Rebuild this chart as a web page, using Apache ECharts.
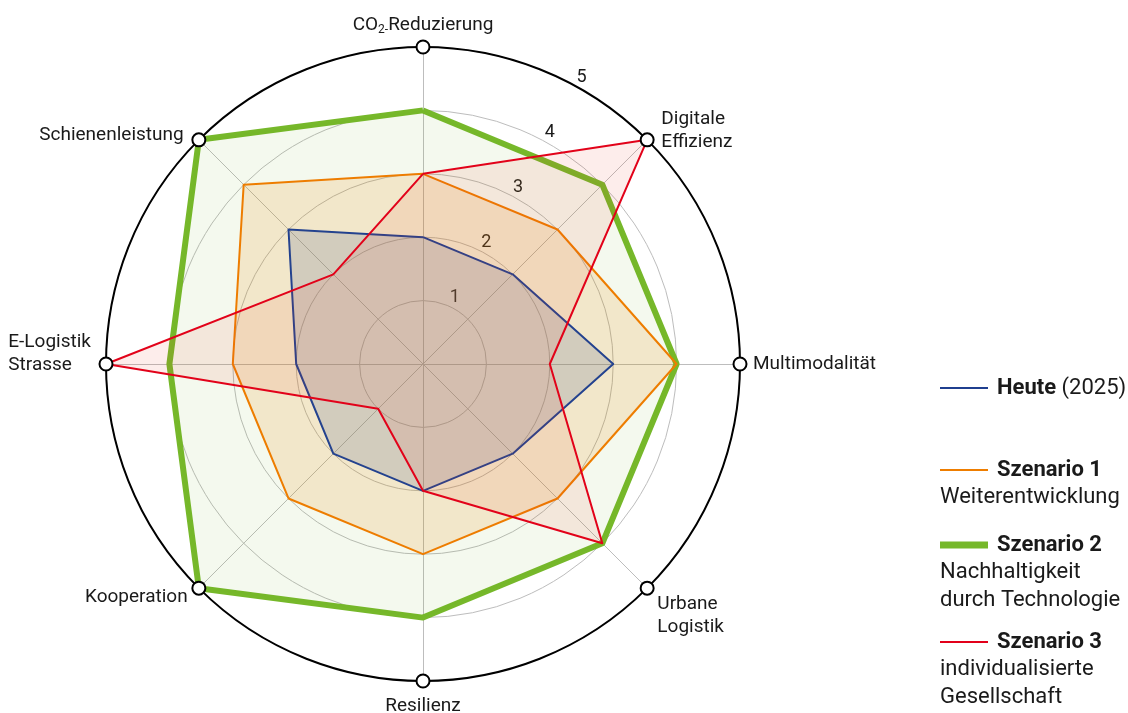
<!DOCTYPE html>
<html>
<head>
<meta charset="utf-8">
<script src="https://cdn.jsdelivr.net/npm/echarts@6/dist/echarts.min.js"></script>
<style>html,body{margin:0;padding:0;background:#fff;}#c{width:1128px;height:713px;}</style>
</head>
<body>
<div id="c"></div>
<script>
// Categories in clockwise order starting at top
const categories = ['CO2-Reduzierung', 'Digitale Effizienz', 'Multimodalität', 'Urbane Logistik', 'Resilienz', 'Kooperation', 'E-Logistik Strasse', 'Schienenleistung'];
const heute = [2, 2, 3, 2, 2, 2, 2, 3];
const szenario1 = [3, 3, 4, 3, 3, 3, 3, 4];
const szenario2 = [4, 4, 4, 4, 4, 5, 4, 5];
const szenario3 = [3, 5, 2, 4, 2, 1, 5, 2];
const outerMarks = [5, 5, 5, 5, 5, 5, 5, 5];
const tickLabels = ['1', '2', '3', '4', '5'];
const seriesNames = ['Heute', 'Szenario 1', 'Szenario 2', 'Szenario 3'];
const legendSuffix = ['(2025)', '', '', ''];
const legendSubtitles = ['', 'Weiterentwicklung', 'Nachhaltigkeit\ndurch Technologie', 'individualisierte\nGesellschaft'];

const FONT = 'Roboto';
const TXT = '#1a1a1a';
const MAXV = 5;
const LFS = 19;   // axis name font size
const GFS = 22;   // legend font size

// ECharts radar runs counter-clockwise; reorder so the picture runs clockwise
const order = [0, 7, 6, 5, 4, 3, 2, 1];
const reorder = arr => order.map(i => arr[i]);

const labelKey = {
  'CO2-Reduzierung': 'co2', 'Digitale Effizienz': 'dig', 'Multimodalität': 'mul',
  'Urbane Logistik': 'urb', 'Resilienz': 'res', 'Kooperation': 'koo',
  'E-Logistik Strasse': 'elo', 'Schienenleistung': 'sch'
};
function st(extra) {
  return Object.assign({ fontFamily: FONT, fontSize: LFS, color: TXT, lineHeight: 23 }, extra || {});
}
const nameRich = {
  n: st({ padding: [5, 0, 0, 0] }),
  sub: st({ fontSize: 12, lineHeight: 14, padding: [15, 0, 0, 0] }),
  dig: st({ align: 'left', padding: [0, 0, 0, 5] }),
  mul: st(),
  urb: st({ align: 'left', padding: [36, 0, 0, 1] }),
  res: st({ padding: [2, 0, 0, 0] }),
  koo: st({ padding: [0, 2, 0, 0] }),
  elo: st({ align: 'left', padding: [0, 2, 20, 0] }),
  sch: st({ padding: [10, 6, 0, 0] })
};
function nameFormatter(name) {
  switch (labelKey[name]) {
    case 'co2': return '{n|CO}{sub|2-}{n|Reduzierung}';
    case 'dig': return '{dig|Digitale}\n{dig|Effizienz}';
    case 'mul': return '{mul|Multimodalität}';
    case 'urb': return '{urb|Urbane}\n{urb|Logistik}';
    case 'res': return '{res|Resilienz}';
    case 'koo': return '{koo|Kooperation}';
    case 'elo': return '{elo|E-Logistik}\n{elo|Strasse}';
    case 'sch': return '{sch|Schienenleistung}';
  }
  return name;
}

const colors = ['#1f3f8f', '#ee7d00', '#76b82a', '#e2001a'];
const lineWidths = [2, 2, 6, 2];
const areaColors = ['#55658a', '#ee7d00', '#76b82a', '#ea3a1e'];
const areaOpacity = [0.2, 0.15, 0.08, 0.09];
const values = [heute, szenario1, szenario2, szenario3];

function dataSeries(i) {
  return {
    type: 'radar',
    name: seriesNames[i],
    symbol: 'none',
    color: colors[i],
    itemStyle: { color: colors[i] },
    lineStyle: { color: colors[i], width: lineWidths[i] },
    areaStyle: { color: areaColors[i], opacity: areaOpacity[i] },
    data: [{ value: reorder(values[i]), name: seriesNames[i] }],
    silent: true
  };
}

const legendTops = [375, 457, 532, 629];
const legendH = [2, 2, 7, 2];
const legends = seriesNames.map((nm, i) => ({
  left: 940, top: legendTops[i], padding: 0, orient: 'vertical',
  itemWidth: 48, itemHeight: legendH[i], itemGap: 0,
  selectedMode: false,
  data: [{ name: nm, icon: 'rect', itemStyle: { color: colors[i], borderWidth: 0 } }],
  formatter: function (name) {
    const idx = seriesNames.indexOf(name);
    return '{b|' + name + '}' + (legendSuffix[idx] ? '{r| ' + legendSuffix[idx] + '}' : '');
  },
  textStyle: {
    lineHeight: 26,
    rich: {
      b: { fontFamily: FONT, fontSize: GFS, fontWeight: 'bold', color: TXT, lineHeight: 26, padding: [0, 0, 0, 4] },
      r: { fontFamily: FONT, fontSize: GFS, color: TXT, lineHeight: 26 }
    }
  }
}));

const subTops = [0, 483, 558, 655];
const graphics = [];
legendSubtitles.forEach((t, i) => {
  if (!t) return;
  graphics.push({
    type: 'text', left: 940, top: subTops[i], silent: true,
    style: { text: t, font: GFS + 'px ' + FONT, fill: TXT, lineHeight: 28 }
  });
});

const option = {
  backgroundColor: '#fff',
  animation: false,
  legend: legends,
  graphic: graphics,
  radar: {
    center: [423, 364],
    radius: 317,
    startAngle: 90,
    shape: 'circle',
    splitNumber: 5,
    nameGap: 13,
    indicator: reorder(categories).map(c => ({ name: c, min: 0, max: MAXV })),
    axisName: { formatter: nameFormatter, rich: nameRich, fontFamily: FONT, fontSize: LFS, color: TXT },
    splitLine: { lineStyle: { color: '#bdbdbd', width: 1 } },
    splitArea: { show: false },
    axisLine: { lineStyle: { color: '#bdbdbd', width: 1 } },
    axisTick: { show: false },
    axisLabel: { show: false }
  },
  polar: { center: [423, 364], radius: 317 },
  angleAxis: {
    type: 'value', min: 0, max: 360, startAngle: 60,
    axisLine: { show: true, lineStyle: { color: '#000', width: 2 } },
    axisTick: { show: false }, axisLabel: { show: false }, splitLine: { show: false }
  },
  radiusAxis: {
    type: 'value', min: 0, max: MAXV, interval: 1,
    axisLine: { show: false }, axisTick: { show: false }, splitLine: { show: false },
    axisLabel: {
      show: true, margin: 0, align: 'center', verticalAlign: 'bottom', padding: [0, 0, 3, 0],
      fontFamily: FONT, fontSize: 18, color: TXT,
      formatter: v => (v >= 1 ? tickLabels[v - 1] : '')
    }
  },
  series: [
    dataSeries(2), dataSeries(1), dataSeries(0), dataSeries(3),
    {
      type: 'radar', name: 'marks', symbol: 'circle', symbolSize: 13, silent: true, z: 10,
      itemStyle: { color: '#fff', borderColor: '#000', borderWidth: 2 },
      lineStyle: { width: 0, opacity: 0 },
      data: [{ value: outerMarks }]
    }
  ]
};
const chart = echarts.init(document.getElementById('c'), null, { renderer: 'canvas' });
chart.setOption(option);
</script>
</body>
</html>
